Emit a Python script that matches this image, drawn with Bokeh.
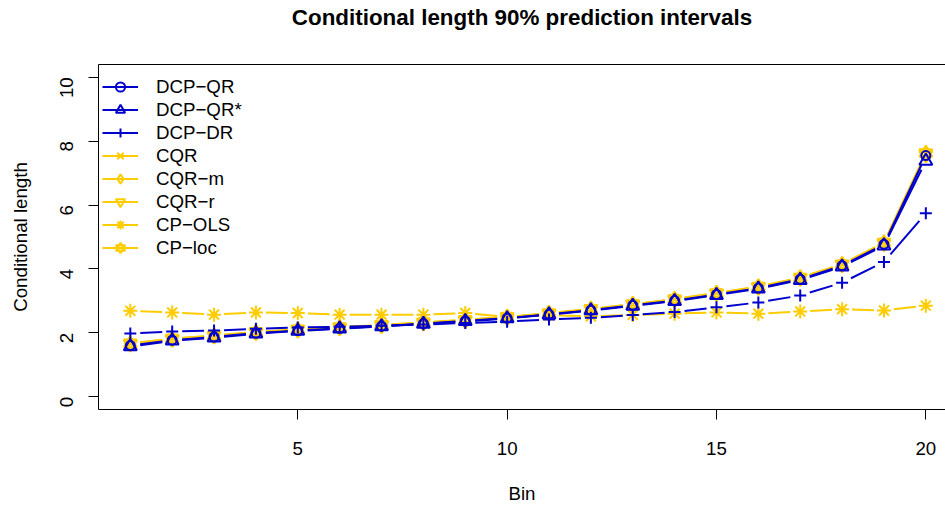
import math
from bokeh.plotting import figure
from bokeh.models import Range1d, LinearAxis, FixedTicker, Legend, LegendItem
from bokeh.embed import file_html
from bokeh.resources import INLINE

# ---------------- data ----------------
bins = list(range(1, 21))
dcp_qr = [1.60, 1.77, 1.87, 1.99, 2.07, 2.14, 2.21, 2.29, 2.37, 2.46,
          2.58, 2.71, 2.86, 3.01, 3.20, 3.40, 3.68, 4.10, 4.77, 7.55]
dcp_qr_star = [1.57, 1.75, 1.85, 1.97, 2.06, 2.13, 2.20, 2.28, 2.36, 2.45,
               2.57, 2.70, 2.84, 2.99, 3.18, 3.38, 3.65, 4.07, 4.73, 7.38]
dcp_dr = [1.98, 2.04, 2.07, 2.13, 2.17, 2.19, 2.22, 2.26, 2.31, 2.35,
          2.42, 2.47, 2.56, 2.65, 2.80, 2.95, 3.17, 3.57, 4.22, 5.74]
cqr = [1.66, 1.81, 1.91, 2.02, 2.10, 2.17, 2.24, 2.32, 2.40, 2.49,
       2.61, 2.74, 2.89, 3.05, 3.24, 3.44, 3.72, 4.14, 4.82, 7.60]
cqr_m = [1.65, 1.80, 1.90, 2.01, 2.09, 2.16, 2.23, 2.31, 2.39, 2.48,
         2.60, 2.73, 2.88, 3.04, 3.23, 3.43, 3.71, 4.13, 4.80, 7.58]
cqr_r = [1.64, 1.79, 1.89, 2.00, 2.08, 2.15, 2.22, 2.30, 2.38, 2.47,
         2.59, 2.72, 2.87, 3.03, 3.22, 3.42, 3.70, 4.12, 4.79, 7.57]
cp_ols = [2.69, 2.64, 2.57, 2.64, 2.62, 2.57, 2.57, 2.57, 2.62, 2.50,
          2.55, 2.52, 2.56, 2.60, 2.64, 2.60, 2.67, 2.74, 2.70, 2.85]
cp_loc = [1.67, 1.82, 1.92, 2.03, 2.11, 2.18, 2.25, 2.33, 2.41, 2.50,
          2.62, 2.75, 2.90, 3.06, 3.25, 3.45, 3.73, 4.15, 4.83, 7.63]

names = ["DCP\u2212QR", "DCP\u2212QR*", "DCP\u2212DR", "CQR", "CQR\u2212m",
         "CQR\u2212r", "CP\u2212OLS", "CP\u2212loc"]
title_text = "Conditional length 90% prediction intervals"
x_ticks = [5, 10, 15, 20]
y_ticks = [0, 2, 4, 6, 8, 10]

BLUE = "#0000CD"
GOLD = "#FFCC00"
FONT = "Liberation Sans"

# (values, colour, [(marker, size)])
series = [
    (dcp_qr, BLUE, [("circle", 9)]),
    (dcp_qr_star, BLUE, [("triangle", 13)]),
    (dcp_dr, BLUE, [("cross", 12)]),
    (cqr, GOLD, [("x", 13)]),
    (cqr_m, GOLD, [("diamond", 15)]),
    (cqr_r, GOLD, [("inverted_triangle", 13)]),
    (cp_ols, GOLD, [("asterisk", 14)]),
    (cp_loc, GOLD, [("triangle", 13), ("inverted_triangle", 13)]),
]

# ---------------- figure ----------------
X0, X1 = 0.24, 20.47
Y0, Y1 = -0.4, 10.4
W, H = 945, 506
BL, BR, BT, BB = 98, 0, 64, 91
FRAME_W = W - BL - BR
FRAME_H = H - BT - BB

p = figure(width=W, height=H, output_backend="svg", toolbar_location=None,
           x_range=Range1d(X0, X1), y_range=Range1d(Y0, Y1),
           min_border_left=BL, min_border_right=BR,
           min_border_top=BT, min_border_bottom=BB)
p.outline_line_color = None
p.xgrid.visible = False
p.ygrid.visible = False
p.background_fill_color = "white"
p.border_fill_color = "white"

for ax, ticks in ((p.xaxis[0], x_ticks), (p.yaxis[0], y_ticks)):
    ax.ticker = FixedTicker(ticks=ticks)
    ax.minor_tick_line_color = None
    ax.major_tick_out = 10
    ax.major_tick_in = 0
    ax.axis_line_color = "black"
    ax.major_tick_line_color = "black"
    ax.major_label_text_font = FONT
    ax.major_label_text_font_size = "18.7px"
    ax.major_label_text_color = "black"
    ax.axis_label_text_font = FONT
    ax.axis_label_text_font_size = "18.7px"
    ax.axis_label_text_font_style = "normal"
    ax.axis_label_text_color = "black"

p.xaxis[0].axis_label = "Bin"
p.xaxis[0].major_label_standoff = 22
p.xaxis[0].axis_label_standoff = 25
p.yaxis[0].axis_label = "Conditional length"
p.yaxis[0].major_label_orientation = math.pi / 2
p.yaxis[0].major_label_standoff = 22
p.yaxis[0].axis_label_standoff = 20

# top edge of the box, carrying the main title as its label
top = LinearAxis(ticker=FixedTicker(ticks=[]), axis_line_color="black",
                 major_tick_line_color=None, minor_tick_line_color=None,
                 major_tick_out=0, major_tick_in=0, major_label_standoff=0,
                 major_label_text_font_size="0px",
                 axis_label=title_text, axis_label_standoff=35,
                 axis_label_text_font=FONT, axis_label_text_font_size="22.4px",
                 axis_label_text_font_style="bold", axis_label_text_color="black")
p.add_layout(top, "above")

# ---------------- lines with gaps (type = "b") ----------------
sx = FRAME_W / (X1 - X0)
sy = FRAME_H / (Y1 - Y0)
GAP = 10.0


def gapped(xs, ys):
    a, b, c, d = [], [], [], []
    for i in range(len(xs) - 1):
        dx = (xs[i + 1] - xs[i]) * sx
        dy = (ys[i + 1] - ys[i]) * sy
        L = math.hypot(dx, dy)
        if L <= 2 * GAP:
            continue
        t = GAP / L
        a.append(xs[i] + t * (xs[i + 1] - xs[i]))
        b.append(ys[i] + t * (ys[i + 1] - ys[i]))
        c.append(xs[i + 1] - t * (xs[i + 1] - xs[i]))
        d.append(ys[i + 1] - t * (ys[i + 1] - ys[i]))
    return a, b, c, d


renderers = [None] * len(series)
draw_order = [3, 4, 5, 6, 7, 0, 1, 2]
for idx in draw_order:
    vals, col, marks = series[idx]
    a, b, c, d = gapped(bins, vals)
    rs = [p.segment(x0=a, y0=b, x1=c, y1=d, line_color=col, line_width=2)]
    for m, s in marks:
        rs.append(p.scatter(bins, vals, marker=m, size=s,
                            line_color=col, line_width=2, fill_color=None))
    renderers[idx] = rs

items = [LegendItem(label=names[i], renderers=renderers[i]) for i in range(len(series))]
legend = Legend(items=items, location=(4, 150), margin=0, padding=0,
                border_line_color=None, background_fill_alpha=0,
                glyph_width=36, glyph_height=23, label_height=23, spacing=0,
                label_standoff=18, label_text_font=FONT,
                label_text_font_size="18.7px", label_text_color="black")
p.add_layout(legend, "center")

open("out.html", "w").write(file_html(p, INLINE))
